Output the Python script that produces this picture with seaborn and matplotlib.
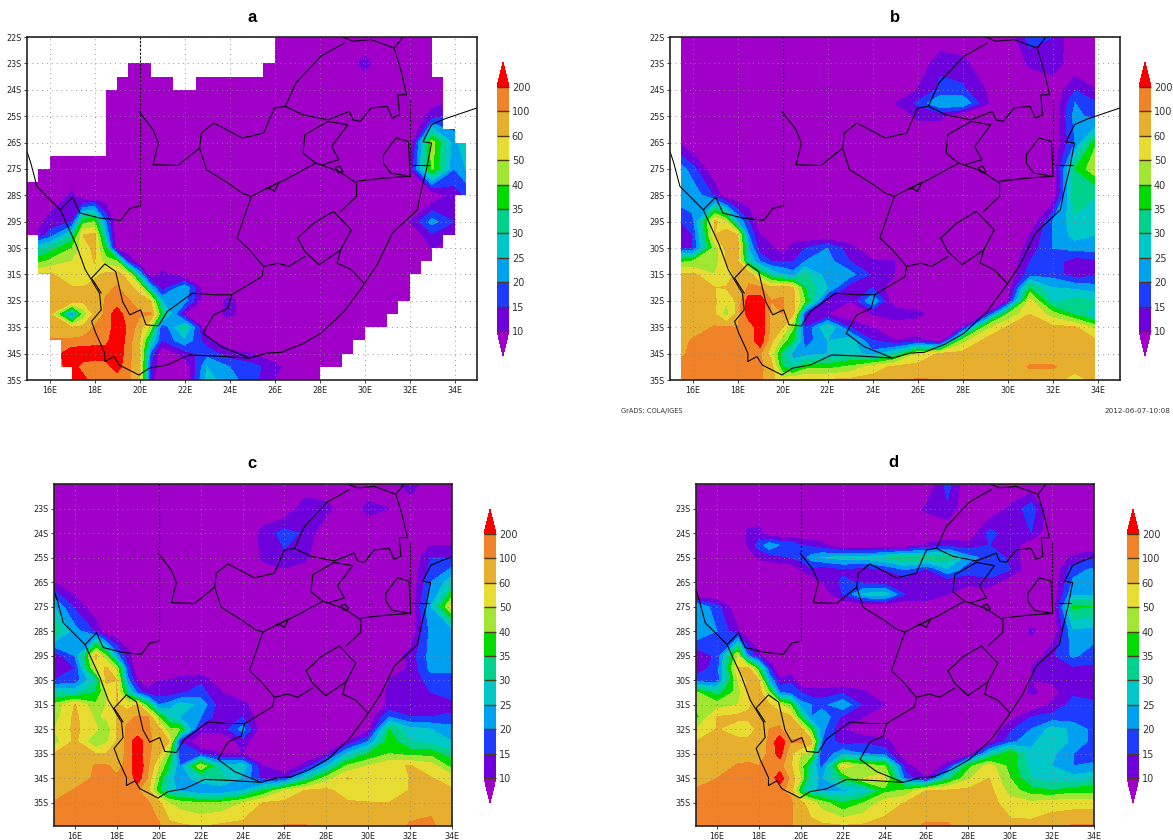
import numpy as np
import matplotlib
matplotlib.use('Agg')
import matplotlib.pyplot as plt
import seaborn as sns
from matplotlib.cm import ScalarMappable
from matplotlib.colors import BoundaryNorm, ListedColormap

# Colour classes
levels = [10, 15, 20, 25, 30, 35, 40, 50, 60, 100, 200]
colors = ['#a000c8', '#6e00dc', '#1e3cff', '#00a0f0', '#00c8c8', '#00d28c',
          '#00dc00', '#a0e632', '#e6dc32', '#e6af2d', '#f08228', '#fa0000']

# Grid, rainfall (mm)
lons = [15, 16, 17, 17.5, 18, 18.5, 19, 19.5, 20, 20.5, 21,
        22, 23, 24, 25, 26, 27, 28, 29, 30, 31, 32, 33, 34, 35]
lats_a = [-22, -23, -24, -25, -26, -27, -28, -29, -29.5, -30, -30.5, -31,
          -31.5, -32, -32.5, -33, -33.5, -34, -34.5, -35]
lats_b = [-22, -23, -24, -24.5, -25, -26, -27, -28, -29, -29.5, -30, -30.5, -31,
          -31.5, -32, -32.5, -33, -33.5, -34, -34.5, -35]
lats_c = lats_a + [-36]
lats_d = [-22, -23, -24, -24.5, -25, -25.5, -26, -26.5, -27, -28, -29, -29.5, -30,
          -30.5, -31, -31.5, -32, -32.5, -33, -33.5, -34, -34.5, -35, -36]

rain_a = [
    [8, 8, 8, 8, 8, 8, 8, 8, 8, 8, 8,  8, 8, 8, 8, 8, 8, 8, 8, 8, 8, 8, 8, 8, 8],
    [8, 8, 8, 8, 8, 8, 8, 8, 8, 8, 8,  8, 8, 8, 8, 8, 8, 8, 8, 12, 8, 8, 8, 8, 8],
    [8, 8, 8, 8, 8, 8, 8, 8, 8, 8, 8,  8, 8, 8, 8, 8, 8, 8, 8, 8, 8, 8, 8, 8, 8],
    [8, 8, 8, 8, 8, 8, 8, 8, 8, 8, 8,  8, 8, 8, 8, 8, 8, 8, 8, 8, 8, 8, 12, 17, 17],
    [8, 8, 8, 8, 8, 8, 8, 8, 8, 8, 8,  8, 8, 8, 8, 8, 8, 8, 8, 8, 8, 8, 45, 22, 40],
    [8, 8, 8, 8, 8, 8, 8, 8, 8, 8, 8,  8, 8, 8, 8, 8, 8, 8, 8, 8, 8, 10, 42, 20, 30],
    [8, 8, 11, 8, 8, 8, 8, 8, 8, 8, 8,  8, 8, 8, 8, 8, 8, 8, 8, 8, 8, 8, 8, 12, 20],
    [8, 12, 15, 38, 40, 20, 8, 8, 8, 8, 8,  8, 8, 8, 8, 8, 8, 8, 8, 8, 8, 10, 22, 15, 8],
    [8, 17, 30, 62, 70, 25, 8, 8, 8, 8, 8,  8, 8, 8, 8, 8, 8, 8, 8, 8, 8, 8, 14, 12, 8],
    [25, 32, 40, 55, 70, 35, 8, 8, 8, 8, 8,  8, 8, 8, 8, 8, 8, 8, 8, 8, 8, 8, 10, 8, 8],
    [35, 42, 50, 55, 62, 45, 40, 15, 8, 8, 8,  8, 8, 8, 8, 8, 8, 8, 8, 8, 8, 8, 8, 8, 8],
    [60, 65, 55, 52, 58, 70, 80, 55, 25, 8, 12,  8, 8, 8, 8, 8, 8, 8, 8, 8, 8, 8, 8, 8, 8],
    [65, 70, 62, 62, 70, 90, 110, 75, 55, 25, 12,  24, 8, 8, 8, 8, 8, 8, 8, 8, 8, 8, 8, 8, 8],
    [65, 70, 90, 70, 75, 110, 130, 110, 80, 60, 25,  22, 8, 12, 8, 8, 8, 8, 8, 8, 8, 8, 8, 8, 8],
    [65, 70, 20, 42, 70, 120, 350, 115, 110, 110, 35,  10, 8, 12, 8, 8, 8, 8, 8, 8, 8, 8, 8, 8, 8],
    [75, 80, 60, 70, 110, 120, 350, 180, 80, 45, 15,  32, 8, 8, 8, 8, 8, 8, 8, 8, 8, 8, 8, 8, 8],
    [100, 110, 120, 130, 150, 160, 380, 150, 60, 30, 15,  24, 12, 8, 8, 8, 8, 8, 8, 8, 8, 8, 8, 8, 8],
    [110, 120, 350, 350, 350, 320, 350, 140, 60, 18, 8,  12, 18, 12, 10, 8, 8, 8, 8, 8, 8, 8, 8, 8, 8],
    [110, 120, 300, 150, 130, 150, 300, 120, 70, 15, 8,  8, 25, 20, 17, 12, 8, 8, 8, 8, 8, 8, 8, 8, 8],
    [110, 120, 300, 280, 130, 130, 130, 120, 60, 12, 8,  8, 27, 22, 17, 10, 8, 8, 8, 8, 8, 8, 8, 8, 8],
]

rain_b = [
    [8, 8, 8, 8, 8, 8, 8, 8, 8, 8, 8,  8, 8, 8, 8, 8, 8, 8, 8, 8, 18, 15, 8, 8, 8],
    [8, 8, 8, 8, 8, 8, 8, 8, 8, 8, 8,  8, 8, 8, 8, 8, 14, 12, 8, 8, 11, 14, 8, 8, 8],
    [8, 8, 8, 8, 8, 8, 8, 8, 8, 8, 8,  8, 8, 8, 8, 10, 16, 16, 10, 8, 8, 8, 15, 10, 10],
    [8, 8, 8, 8, 8, 8, 8, 8, 8, 8, 8,  8, 8, 8, 10, 16, 25, 25, 11, 8, 8, 8, 20, 15, 15],
    [8, 8, 8, 8, 8, 8, 8, 8, 8, 8, 8,  8, 8, 8, 8, 11, 11, 8, 8, 8, 8, 8, 22, 17, 17],
    [12, 8, 8, 8, 8, 8, 8, 8, 8, 8, 8,  8, 8, 8, 8, 8, 8, 8, 8, 8, 8, 8, 20, 40, 40],
    [28, 17, 8, 8, 8, 8, 8, 8, 8, 8, 8,  8, 8, 8, 8, 8, 8, 8, 8, 8, 8, 8, 35, 50, 50],
    [22, 24, 14, 8, 8, 8, 8, 8, 8, 8, 8,  8, 8, 8, 8, 8, 8, 8, 8, 8, 8, 8, 35, 30, 30],
    [12, 18, 70, 50, 25, 15, 8, 8, 8, 8, 8,  8, 8, 8, 8, 8, 8, 8, 8, 8, 8, 20, 28, 28, 28],
    [10, 15, 60, 90, 60, 20, 10, 8, 8, 8, 8,  8, 8, 8, 8, 8, 8, 8, 8, 8, 10, 20, 27, 25, 25],
    [14, 15, 45, 70, 80, 25, 12, 12, 8, 14, 15,  20, 12, 8, 8, 8, 8, 8, 8, 8, 12, 20, 22, 22, 22],
    [38, 40, 45, 60, 65, 30, 20, 15, 15, 15, 20,  22, 15, 11, 10, 8, 8, 8, 8, 8, 15, 18, 12, 14, 14],
    [70, 70, 50, 55, 70, 90, 40, 30, 25, 22, 32,  22, 22, 14, 10, 8, 10, 8, 8, 8, 18, 18, 12, 14, 14],
    [70, 75, 60, 62, 70, 110, 120, 70, 90, 60, 35,  25, 12, 15, 8, 8, 8, 8, 8, 8, 35, 25, 24, 22, 22],
    [70, 80, 65, 50, 70, 320, 320, 100, 110, 70, 40,  12, 10, 25, 8, 8, 8, 8, 8, 10, 55, 28, 32, 30, 30],
    [70, 75, 62, 45, 75, 320, 350, 90, 100, 60, 15,  10, 8, 10, 14, 12, 8, 8, 10, 40, 60, 45, 34, 25, 25],
    [75, 75, 110, 110, 100, 120, 350, 90, 60, 40, 15,  30, 15, 10, 8, 8, 8, 10, 45, 65, 72, 70, 65, 45, 45],
    [75, 110, 120, 120, 110, 120, 380, 70, 45, 35, 17,  25, 28, 15, 10, 12, 8, 45, 70, 75, 75, 75, 75, 60, 60],
    [80, 120, 120, 120, 125, 130, 110, 55, 32, 22, 22,  25, 28, 22, 30, 50, 65, 72, 75, 90, 75, 75, 75, 75, 75],
    [100, 120, 120, 120, 120, 120, 120, 80, 35, 30, 38,  38, 42, 55, 70, 75, 75, 75, 75, 75, 110, 110, 80, 70, 70],
    [110, 120, 120, 120, 120, 120, 120, 70, 55, 60, 60,  65, 70, 75, 90, 110, 100, 80, 75, 75, 75, 75, 55, 75, 75],
]

rain_c = [
    [8, 8, 8, 8, 8, 8, 8, 8, 8, 8, 8,  8, 8, 8, 8, 8, 8, 8, 8, 8, 8, 14, 8, 8, 8],
    [8, 8, 8, 8, 8, 8, 8, 8, 8, 8, 8,  8, 8, 8, 8, 8, 14, 12, 8, 12, 10, 8, 8, 8, 8],
    [8, 8, 8, 8, 8, 8, 8, 8, 8, 8, 8,  8, 8, 8, 12, 17, 14, 8, 8, 8, 8, 8, 8, 8, 8],
    [8, 8, 8, 8, 8, 8, 8, 8, 8, 8, 8,  8, 8, 8, 11, 14, 11, 8, 8, 8, 8, 8, 15, 15, 15],
    [10, 8, 8, 8, 8, 8, 8, 8, 8, 8, 8,  8, 8, 8, 8, 8, 8, 8, 8, 8, 8, 8, 20, 28, 28],
    [25, 14, 8, 8, 8, 8, 8, 8, 8, 8, 8,  8, 8, 8, 8, 8, 8, 8, 8, 8, 8, 8, 25, 55, 30],
    [35, 22, 14, 8, 8, 8, 8, 8, 8, 8, 8,  8, 8, 8, 8, 8, 8, 8, 8, 8, 8, 8, 22, 22, 22],
    [12, 20, 70, 40, 22, 12, 8, 8, 8, 8, 8,  8, 8, 8, 8, 8, 8, 8, 8, 8, 8, 12, 22, 25, 25],
    [10, 15, 55, 65, 45, 17, 8, 8, 8, 8, 8,  8, 8, 8, 8, 8, 8, 8, 8, 8, 8, 11, 22, 22, 22],
    [15, 17, 30, 75, 60, 22, 10, 8, 10, 10, 12,  14, 8, 8, 8, 8, 8, 8, 8, 8, 10, 12, 17, 17, 17],
    [30, 28, 35, 50, 62, 32, 18, 12, 12, 12, 14,  17, 10, 8, 8, 8, 8, 8, 8, 8, 11, 11, 15, 18, 18],
    [42, 62, 42, 50, 62, 55, 60, 35, 20, 22, 27,  24, 11, 12, 8, 8, 8, 8, 8, 8, 11, 11, 12, 13, 13],
    [45, 70, 48, 52, 62, 90, 110, 105, 40, 30, 25,  20, 11, 15, 8, 8, 8, 8, 8, 8, 20, 15, 15, 16, 16],
    [50, 70, 52, 42, 62, 120, 105, 115, 75, 42, 40,  12, 12, 22, 8, 8, 8, 8, 8, 9, 35, 27, 25, 22, 22],
    [45, 70, 40, 48, 62, 130, 350, 115, 90, 60, 15,  8, 8, 12, 8, 8, 8, 8, 10, 20, 38, 30, 28, 25, 25],
    [60, 70, 60, 60, 80, 120, 350, 120, 70, 40, 17,  15, 10, 10, 8, 8, 8, 10, 26, 35, 40, 38, 38, 32, 32],
    [70, 72, 110, 110, 90, 120, 380, 110, 50, 35, 20,  50, 27, 28, 10, 8, 12, 25, 42, 50, 58, 62, 55, 38, 38],
    [80, 75, 120, 120, 110, 120, 320, 90, 40, 27, 22,  28, 32, 24, 13, 14, 30, 45, 62, 58, 50, 62, 62, 55, 55],
    [75, 110, 120, 120, 120, 120, 110, 70, 36, 27, 24,  20, 20, 25, 35, 50, 62, 70, 55, 50, 55, 62, 65, 65, 65],
    [110, 120, 115, 110, 120, 120, 120, 110, 70, 50, 45,  40, 42, 50, 62, 68, 70, 70, 65, 62, 60, 72, 90, 70, 70],
    [120, 120, 120, 120, 120, 120, 120, 120, 120, 75, 70,  62, 72, 75, 90, 110, 110, 75, 72, 70, 75, 120, 120, 75, 75],
]

rain_d = [
    [8, 8, 8, 8, 8, 8, 8, 8, 8, 8, 8,  8, 8, 8, 8, 8, 17, 8, 8, 8, 8, 8, 8, 8, 8],
    [8, 8, 8, 8, 8, 8, 8, 8, 8, 8, 8,  8, 8, 8, 8, 11, 14, 8, 8, 11, 18, 8, 8, 8, 8],
    [8, 8, 9, 11, 12, 8, 8, 8, 8, 8, 8,  8, 8, 8, 8, 8, 8, 8, 17, 12, 15, 8, 8, 8, 8],
    [8, 8, 8, 11, 17, 24, 20, 20, 15, 14, 12,  8, 8, 8, 8, 11, 14, 12, 15, 14, 8, 8, 8, 8, 8],
    [8, 8, 8, 8, 11, 12, 14, 15, 17, 22, 25,  27, 27, 30, 35, 33, 33, 22, 18, 14, 8, 8, 11, 15, 15],
    [8, 8, 8, 8, 8, 8, 8, 8, 10, 14, 11,  14, 12, 15, 20, 14, 24, 17, 17, 15, 8, 8, 18, 21, 21],
    [8, 8, 8, 8, 8, 8, 8, 8, 8, 8, 10,  16, 14, 12, 11, 11, 11, 12, 14, 8, 8, 8, 21, 22, 22],
    [8, 8, 8, 8, 8, 8, 8, 8, 8, 8, 8,  15, 26, 28, 15, 15, 10, 8, 8, 8, 8, 8, 24, 24, 24],
    [25, 17, 8, 8, 8, 8, 8, 8, 8, 8, 8,  8, 8, 8, 8, 8, 8, 8, 8, 8, 8, 8, 36, 35, 35],
    [25, 20, 11, 8, 8, 8, 8, 8, 8, 8, 8,  8, 8, 8, 8, 8, 8, 8, 8, 8, 11, 8, 24, 23, 23],
    [11, 16, 50, 20, 11, 8, 8, 8, 8, 8, 8,  8, 8, 8, 8, 8, 8, 8, 8, 8, 8, 14, 21, 17, 17],
    [12, 17, 60, 65, 35, 15, 8, 8, 8, 8, 8,  8, 8, 8, 8, 8, 8, 8, 8, 8, 10, 12, 14, 14, 14],
    [17, 17, 50, 70, 60, 25, 11, 14, 8, 8, 8,  8, 8, 8, 8, 8, 8, 8, 8, 8, 10, 11, 12, 13, 13],
    [42, 32, 45, 65, 80, 42, 20, 18, 15, 12, 12,  14, 11, 8, 8, 8, 8, 8, 8, 8, 11, 9, 14, 11, 11],
    [42, 45, 50, 58, 75, 65, 50, 40, 22, 20, 18,  24, 14, 10, 8, 8, 8, 8, 8, 8, 8, 11, 17, 17, 17],
    [38, 62, 70, 70, 70, 85, 90, 70, 35, 20, 24,  14, 10, 8, 8, 8, 8, 8, 8, 9, 15, 17, 17, 20, 20],
    [50, 62, 55, 55, 70, 100, 110, 70, 75, 38, 22,  10, 8, 8, 8, 8, 8, 8, 8, 14, 20, 27, 24, 18, 18],
    [60, 72, 70, 70, 72, 120, 350, 110, 120, 80, 20,  12, 14, 12, 8, 8, 8, 8, 9, 18, 24, 28, 24, 18, 18],
    [70, 75, 80, 90, 75, 120, 300, 70, 50, 45, 15,  24, 20, 18, 8, 8, 8, 8, 28, 40, 26, 26, 20, 15, 15],
    [75, 80, 110, 110, 100, 120, 130, 70, 45, 30, 18,  55, 45, 42, 12, 8, 12, 38, 55, 38, 28, 25, 20, 22, 22],
    [80, 100, 120, 120, 120, 130, 350, 90, 50, 27, 24,  35, 50, 55, 18, 10, 32, 48, 60, 40, 30, 27, 27, 28, 28],
    [110, 120, 120, 120, 120, 120, 120, 90, 35, 26, 24,  24, 26, 38, 42, 60, 65, 70, 75, 45, 37, 35, 38, 38, 38],
    [120, 120, 120, 120, 120, 120, 120, 120, 70, 55, 45,  35, 40, 55, 62, 70, 70, 72, 75, 55, 52, 55, 55, 55, 55],
    [120, 120, 120, 120, 120, 120, 120, 120, 75, 72, 72,  70, 72, 75, 90, 120, 120, 75, 75, 72, 75, 90, 120, 120, 120],
]

# No-data blocks of panel a: top, bottom, west, east
hole_top = [-22, -23, -23, -23.5, -23.5, -24, -26.5, -27, -29.5, -31, -33.5, -34.5,
            -22, -23.5, -25.5, -26, -28, -29.5, -30, -30.5, -31, -32, -32.5, -33, -33.5, -34, -34.5]
hole_bot = [-23, -23.5, -23.5, -24, -24, -26.5, -27, -27.5, -31, -33.5, -34.5, -35,
            -23.5, -25.5, -26, -28, -29.5, -30, -30.5, -31, -32, -32.5, -33, -33.5, -34, -34.5, -35]
hole_west = [15, 15, 20.5, 15, 21.5, 15, 15, 15, 15, 15, 15, 15,
             33, 33.5, 34, 34.5, 34, 33.5, 33, 32.5, 32, 31.5, 31, 30, 29.5, 29, 28]
hole_east = [26, 19.5, 25.5, 19, 22.5, 18.5, 16, 15.5, 15.5, 16, 16.5, 17,
             35, 35, 35, 35, 35, 35, 35, 35, 35, 35, 35, 35, 35, 35, 35]

# Borders
coast = ([15, 15.17, 15.44, 16.48, 17.19, 17.59, 18.22, 18.3, 17.87, 18.06, 18.46, 18.46, 18.86, 19.1, 19.97,
          20.44, 21.24, 22.19, 23.38, 24.89, 25.68, 26.3, 27.2, 28.06, 29.1, 29.97, 30.6, 31.24, 32.35, 32.5, 32.75,
          32.98, 32.6, 32.98, 33.54, 35],
         [-26.34, -26.78, -27.66, -28.55, -29.88, -30.82, -31.71, -32.34, -32.78, -33.23, -33.98, -34.3, -34.11,
          -34.43, -34.81, -34.55, -34.43, -34.05, -34.09, -34.17, -33.98, -33.95, -33.65, -33.23, -32.4, -31.39,
          -30.57, -29.43, -28.55, -27.9, -27.03, -26.02, -25.97, -25.32, -25.11, -24.69])
namibia = ([16.48, 17.03, 17.35, 18.22, 19.17, 19.57, 19.97], [-28.55, -28.07, -28.67, -28.86, -28.95, -28.49, -28.42])
botswana = ([19.97, 20.6, 20.84, 20.6, 21.71, 22.67, 22.75, 23.3, 24.57, 25.52, 26, 26.48, 27.27, 28.38, 29.33,
             29.49, 29.81, 30.29, 31, 31.24, 31.56, 31.48, 31.87],
            [-24.82, -25.51, -26.02, -26.84, -26.87, -26.21, -25.64, -25.26, -25.83, -25.64, -24.69, -24.63, -24.95,
             -25.14, -24.82, -25.14, -25.2, -24.69, -24.63, -25.07, -24.95, -24.19, -24.19])
limpopo = ([29.02, 29.49, 30.29, 31.32, 31.71], [-22, -22.16, -22.1, -22.42, -22])
kruger = ([31.32, 31.63, 31.87], [-22.42, -23.3, -24.19])
north_west = ([29.1, 28.06, 26.95, 26.48], [-22.23, -22.73, -23.74, -24.63])
lesotho = ([27.03, 27.75, 28.62, 29.41, 28.94, 27.98, 27.35, 27.03], [-29.62, -29.05, -28.61, -29.31, -30.07, -30.63, -30.13, -29.62])
swazi = ([30.84, 31.4, 31.95, 32.03, 31.16, 30.84, 30.84], [-26.46, -25.83, -25.96, -27.28, -27.16, -26.78, -26.46])
free_west = ([24.97, 24.33, 24.89, 25.52, 26.16, 26.63, 27.35], [-28.04, -29.62, -30.07, -30.7, -30.57, -30.7, -30.32])
free_north = ([24.97, 25.68, 26.48, 27.83, 28.86, 29.65, 29.65, 28.94], [-28.04, -27.73, -27.41, -26.78, -27.09, -27.54, -28.04, -28.61])
cape_north = ([22.67, 22.98, 23.94, 24.57, 24.97], [-26.21, -27.03, -27.54, -27.92, -28.04])
gauteng = ([27.83, 27.27, 27.35, 28.38, 29.25, 28.54, 28.86, 28.14], [-26.78, -26.4, -25.7, -25.2, -25.33, -26.15, -26.65, -26.84])
natal = ([29.65, 30.84, 32.03], [-27.47, -27.35, -27.28])
maputo = ([32.11, 32.9], [-26.84, -26.84])
transkei = ([28.94, 28.78, 29.41, 29.97], [-30.07, -30.57, -30.82, -31.33])
cape_west = ([25.52, 25.44, 24.1, 23.3, 22.35, 21.24, 20.84, 20.29, 20.05, 19.57, 19.25, 18.94, 18.46, 17.87, 18.3],
             [-30.7, -31.08, -31.77, -31.77, -31.71, -32.4, -32.95, -32.91, -32.34, -32.53, -32.03, -30.89, -30.6, -31.14, -31.71])
cape_south = ([24.1, 23.94, 23.3, 22.83, 23.62, 24.89], [-31.77, -32.28, -32.53, -33.23, -33.73, -34.17])
dam_west = ([25.6, 25.9, 26.2, 26, 25.8, 25.6], [-27.75, -27.65, -27.5, -27.85, -27.75, -27.75])
dam_east = ([28.7, 28.9, 29.05, 28.85, 28.7], [-26.95, -26.9, -27.1, -27.15, -26.95])
solid_borders = [coast, namibia, botswana, limpopo, kruger, north_west, lesotho, swazi, free_west, free_north,
                 cape_north, gauteng, natal, maputo, transkei, cape_west, cape_south, dam_west, dam_east]
dashed_borders = [([20, 20], [-28.42, -22]), ([32, 32], [-24.38, -26.84])]

lon_ticks = [16, 18, 20, 22, 24, 26, 28, 30, 32, 34]
lat_ticks_top = list(range(-22, -36, -1))
lat_ticks_low = list(range(-23, -36, -1))

W, H = 1173, 840
sns.set_theme(style='white')
plt.rcParams['font.family'] = 'DejaVu Sans'
fig = plt.figure(figsize=(W / 100, H / 100), dpi=100, facecolor='white')


def box(left, top, right, bottom):
    return [left / W, 1 - bottom / H, (right - left) / W, (bottom - top) / H]


def draw_map(rect, rain, lat_values, xlim, ylim, lat_ticks):
    ax = fig.add_axes(box(*rect))
    # contour on the colour-class scale so that the bands keep an even width
    field = np.interp(np.array(rain, dtype=float), [8] + levels + [400], np.arange(-1, 12))
    ax.contourf(lons, lat_values, field, levels=np.arange(-1, 12), colors=colors, zorder=1)
    for x, y in solid_borders:
        sns.lineplot(x=x, y=y, sort=False, estimator=None, color='black', linewidth=0.75, ax=ax, zorder=3)
    for x, y in dashed_borders:
        sns.lineplot(x=x, y=y, sort=False, estimator=None, color='black', linewidth=0.8,
                     linestyle=(0, (2, 1.5)), ax=ax, zorder=3)
    ax.set_xlim(*xlim)
    ax.set_ylim(*ylim)
    ax.set_xticks(lon_ticks)
    ax.set_xticklabels([f'{v}E' for v in lon_ticks])
    ax.set_yticks(lat_ticks)
    ax.set_yticklabels([f'{-v}S' for v in lat_ticks])
    ax.tick_params(left=True, bottom=True, length=2.5, width=0.6, labelsize=5.8, pad=1.5,
                   colors='#222222')
    ax.set_axisbelow(False)
    ax.grid(True, color='#8c8c8c', linewidth=0.7, linestyle=(0, (1, 4)), alpha=0.9)
    ax.set_xlabel('')
    ax.set_ylabel('')
    for s in ax.spines.values():
        s.set_linewidth(1.2)
        s.set_color('#222222')
        s.set_zorder(5)
    return ax


def draw_scale(left, top, right, bottom):
    cax = fig.add_axes(box(left, top, right, bottom))
    cmap = ListedColormap(colors[1:-1])
    cmap.set_under(colors[0])
    cmap.set_over(colors[-1])
    norm = BoundaryNorm(levels, cmap.N)
    cb = fig.colorbar(ScalarMappable(norm=norm, cmap=cmap), cax=cax, extend='both',
                      extendfrac=0.103, spacing='uniform', ticks=levels, drawedges=True)
    cb.dividers.set_color('#4d3a1a')
    cb.dividers.set_linewidth(1.0)
    cb.outline.set_visible(False)
    cb.ax.set_yticklabels([str(v) for v in levels])
    cb.ax.tick_params(right=False, length=0, labelsize=7, pad=2, colors='#333333')


ax_a = draw_map((27, 37, 477, 380), rain_a, lats_a, (15, 35), (-35, -22), lat_ticks_top)
ax_a.barh([(t + b) / 2 for t, b in zip(hole_top, hole_bot)], [e - w for e, w in zip(hole_east, hole_west)],
          height=[t - b for t, b in zip(hole_top, hole_bot)], left=hole_west, color='white', linewidth=0, zorder=1.5)

ax_b = draw_map((670, 37, 1120, 380), rain_b, lats_b, (15, 35), (-35, -22), lat_ticks_top)
ax_b.barh([-28.5, -28.5], [0.5, 1.1], height=13, left=[15, 33.9], color='white', linewidth=0, zorder=1.5)

draw_map((54, 484, 452, 826), rain_c, lats_c, (15, 34), (-35.95, -22), lat_ticks_low)
draw_map((696, 484, 1094, 826), rain_d, lats_d, (15, 34), (-35.95, -22), lat_ticks_low)

draw_scale(497, 62, 509, 356)
draw_scale(1139, 62, 1151, 356)
draw_scale(484, 509, 496, 803)
draw_scale(1127, 509, 1139, 803)

for letter, x, y in [('a', 252, 17), ('b', 895, 17), ('c', 252, 463), ('d', 893, 462)]:
    fig.text(x / W, 1 - y / H, letter, ha='center', va='center', fontsize=12, fontweight='bold',
             family='Liberation Sans', color='black')

fig.text(621 / W, 1 - 411 / H, 'GrADS: COLA/IGES', ha='left', va='center', fontsize=4.8, color='#333333')
fig.text(1170 / W, 1 - 411 / H, '2012-06-07-10:08', ha='right', va='center', fontsize=5.2, color='#333333')

fig.savefig('out.png', dpi=100)
